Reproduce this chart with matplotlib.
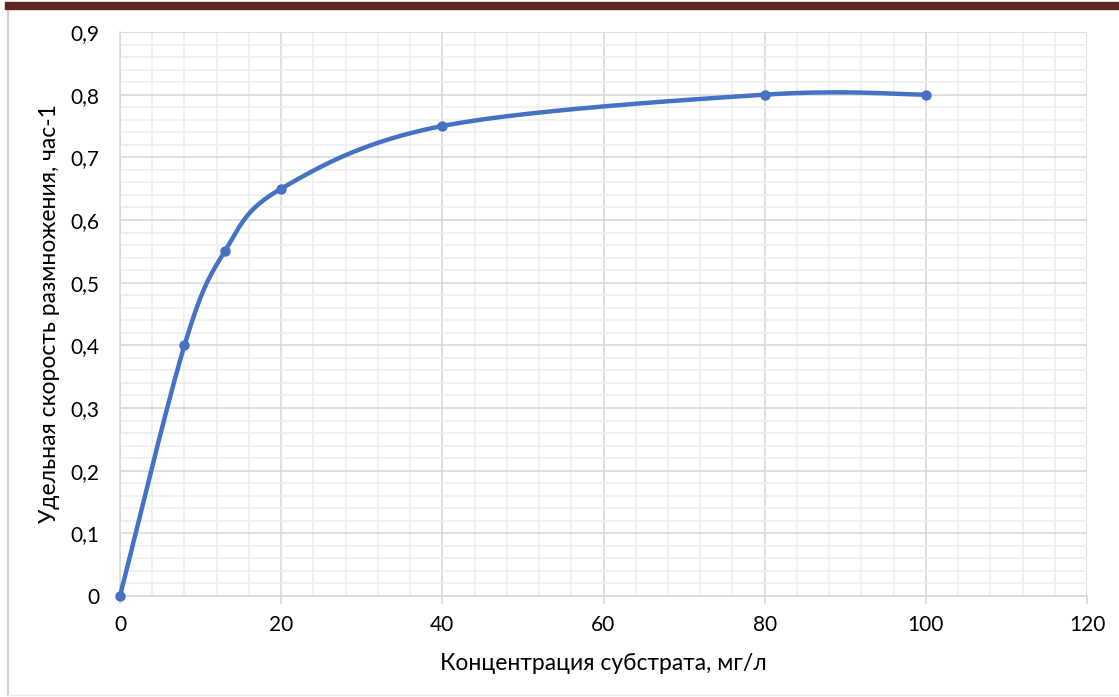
import numpy as np
import matplotlib
matplotlib.use("Agg")
import matplotlib.pyplot as plt
from matplotlib.ticker import MultipleLocator, FuncFormatter
from matplotlib.patches import Rectangle
from matplotlib.lines import Line2D

# Data
substrate = [0, 8, 13, 20, 40, 80, 100]
rate = [0.0, 0.40, 0.55, 0.65, 0.75, 0.80, 0.80]
x_label = "Концентрация субстрата, мг/л"
y_label = "Удельная скорость размножения, час-1"

plt.rcParams['font.family'] = ['Lato', 'DejaVu Sans']

W, H = 1119, 697
fig = plt.figure(figsize=(W / 100, H / 100), dpi=100)
ax = fig.add_axes([120 / W, 1 - 596 / H, (1087 - 120) / W, (596 - 32) / H])

xmin, xmax, ymin, ymax = 0, 120, 0, 0.9
ax.set_xlim(xmin, xmax)
ax.set_ylim(ymin, ymax)

# Excel-like smoothed curve (Catmull-Rom Bezier in normalized space)
px = np.array(substrate, float) / (xmax - xmin) * 967
py = np.array(rate, float) / (ymax - ymin) * 564
n = len(px)
cx, cy = [], []
for i in range(n - 1):
    p0 = (px[max(i - 1, 0)], py[max(i - 1, 0)])
    p1 = (px[i], py[i])
    p2 = (px[i + 1], py[i + 1])
    p3 = (px[min(i + 2, n - 1)], py[min(i + 2, n - 1)])
    c1 = (p1[0] + (p2[0] - p0[0]) / 6, p1[1] + (p2[1] - p0[1]) / 6)
    c2 = (p2[0] - (p3[0] - p1[0]) / 6, p2[1] - (p3[1] - p1[1]) / 6)
    t = np.linspace(0, 1, 60)
    bx = (1 - t) ** 3 * p1[0] + 3 * (1 - t) ** 2 * t * c1[0] + 3 * (1 - t) * t ** 2 * c2[0] + t ** 3 * p2[0]
    by = (1 - t) ** 3 * p1[1] + 3 * (1 - t) ** 2 * t * c1[1] + 3 * (1 - t) * t ** 2 * c2[1] + t ** 3 * p2[1]
    cx.extend(bx)
    cy.extend(by)
cx = np.array(cx) / 967 * (xmax - xmin)
cy = np.array(cy) / 564 * (ymax - ymin)

color = '#4472C4'
ax.plot(cx, cy, color=color, lw=3.2, solid_capstyle='round', zorder=3, clip_on=False)
ax.plot(substrate, rate, 'o', color=color, ms=6.5, zorder=4, clip_on=False)

ax.xaxis.set_major_locator(MultipleLocator(20))
ax.xaxis.set_minor_locator(MultipleLocator(4))
ax.yaxis.set_major_locator(MultipleLocator(0.1))
ax.yaxis.set_minor_locator(MultipleLocator(0.02))
ax.yaxis.set_major_formatter(FuncFormatter(lambda v, p: ('%g' % round(v, 2)).replace('.', ',')))

ax.grid(which='major', color='#d9d9d9', lw=1.2)
ax.grid(which='minor', color='#efefef', lw=1.2)
ax.set_axisbelow(True)
for s in ['top', 'right']:
    ax.spines[s].set_visible(False)
ax.spines['left'].set_color('#d9d9d9')
ax.spines['bottom'].set_color('#d9d9d9')
ax.spines['left'].set_linewidth(1.2)
ax.spines['bottom'].set_linewidth(1.2)
ax.tick_params(axis='x', which='major', length=6, color='#d9d9d9', width=1.2, labelsize=15, pad=8)
ax.tick_params(axis='y', which='major', length=0, labelsize=15, pad=15)
ax.tick_params(which='minor', length=0)

ax.set_xlabel(x_label, fontsize=16.5)
ax.set_ylabel(y_label, fontsize=16.5)
ax.xaxis.set_label_coords(0.5, -(663 - 596) / 564, transform=ax.transAxes)
ax.xaxis.label.set_va('center')
ax.yaxis.set_label_coords(-(120 - 50) / 967, 0.5, transform=ax.transAxes)
ax.yaxis.label.set_va('center')

# Frame decorations
fig.patches.append(Rectangle((5 / W, 1 - 9 / H), 1 - 5 / W, 7 / H, transform=fig.transFigure,
                             color='#632523', zorder=10))
fig.lines.append(Line2D([8 / W, 8 / W], [0.003, 1 - 10 / H], transform=fig.transFigure,
                        color='#d0d0d0', lw=1.5))
fig.lines.append(Line2D([8 / W, 1], [0.003, 0.003], transform=fig.transFigure,
                        color='#ececec', lw=1.0))

fig.savefig('out.png', dpi=100)
